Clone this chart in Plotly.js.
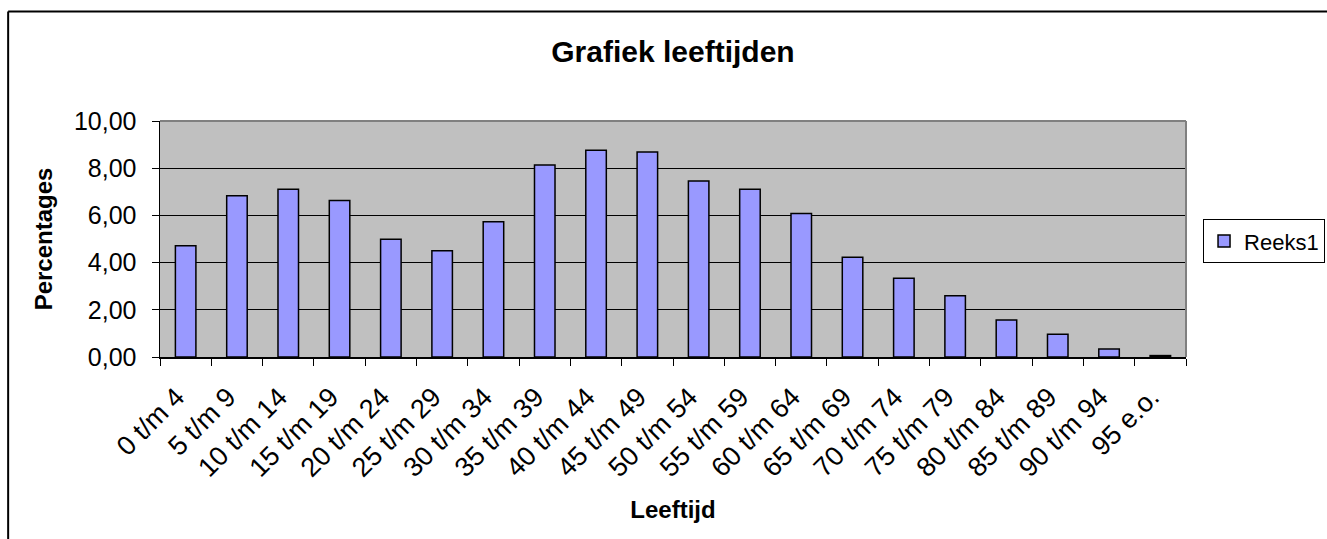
<!DOCTYPE html>
<html>
<head>
<meta charset="utf-8">
<script src="https://cdn.plot.ly/plotly-3.0.1.min.js"></script>
<style>
  html, body { margin: 0; padding: 0; background: #ffffff; }
  #chart { width: 1327px; height: 539px; }
</style>
</head>
<body>
<div id="chart"></div>
<script>
const categories = ["0 t/m 4", "5 t/m 9", "10 t/m 14", "15 t/m 19", "20 t/m 24", "25 t/m 29", "30 t/m 34", "35 t/m 39", "40 t/m 44", "45 t/m 49", "50 t/m 54", "55 t/m 59", "60 t/m 64", "65 t/m 69", "70 t/m 74", "75 t/m 79", "80 t/m 84", "85 t/m 89", "90 t/m 94", "95 e.o."];
const percentages = [4.71, 6.83, 7.11, 6.63, 4.99, 4.50, 5.73, 8.14, 8.76, 8.69, 7.46, 7.11, 6.08, 4.23, 3.34, 2.60, 1.57, 0.96, 0.34, 0.06];
const seriesName = "Reeks1";
const yTicks = [0, 2, 4, 6, 8, 10];

const FONT = "Liberation Sans, Arial, sans-serif";

const trace = {
  type: "bar",
  x: categories,
  y: percentages,
  name: seriesName,
  showlegend: true,
  marker: { color: "#9999FF", line: { color: "#000000", width: 1.5 } },
  hoverinfo: "x+y"
};

const layout = {
  width: 1327,
  height: 539,
  margin: { l: 160, r: 141, t: 121, b: 182, pad: 0, autoexpand: false },
  paper_bgcolor: "#ffffff",
  plot_bgcolor: "#C0C0C0",
  separators: ",.",
  bargap: 0.6,
  font: { family: FONT, color: "#000000", size: 24 },
  title: {
    text: "<b>Grafiek leeftijden</b>",
    font: { family: FONT, size: 30, color: "#000000" },
    x: 0.5, xref: "paper", xanchor: "center",
    y: 0.905, yref: "container", yanchor: "middle"
  },
  xaxis: {
    type: "category",
    tickangle: -45,
    tickson: "boundaries",
    ticks: "outside",
    ticklen: 7,
    tickcolor: "#000000",
    tickwidth: 1,
    ticklabelstandoff: 12,
    ticklabelshift: -9,
    showline: true,
    linecolor: "#000000",
    linewidth: 1.5,
    showgrid: false,
    tickfont: { family: FONT, size: 27, color: "#000000" },
    title: { text: "<b>Leeftijd</b>", font: { family: FONT, size: 24, color: "#000000" }, standoff: 19 },
    automargin: false
  },
  yaxis: {
    range: [0, 10],
    tickvals: yTicks,
    tickformat: ".2f",
    ticks: "outside",
    ticklen: 7,
    tickcolor: "#000000",
    tickwidth: 1,
    ticklabelstandoff: 10,
    showline: true,
    linecolor: "#000000",
    linewidth: 1.5,
    showgrid: true,
    gridcolor: "#000000",
    gridwidth: 1,
    zeroline: false,
    tickfont: { family: FONT, size: 25, color: "#000000" },
    title: { text: "<b>Percentages</b>", font: { family: FONT, size: 24, color: "#000000" }, standoff: 14 },
    automargin: false
  },
  legend: {
    x: 1.0166, xanchor: "left",
    y: 0.584, yanchor: "top",
    bgcolor: "#ffffff",
    bordercolor: "#000000",
    borderwidth: 1,
    font: { family: FONT, size: 22, color: "#000000" },
    itemwidth: 30
  },
  shapes: [
    { type: "line", xref: "paper", yref: "paper", x0: 0, x1: 1, y0: 1, y1: 1, line: { color: "#808080", width: 2 }, layer: "above" },
    { type: "line", xref: "paper", yref: "paper", x0: 1, x1: 1, y0: 0, y1: 1, line: { color: "#808080", width: 2 }, layer: "above" },
    { type: "line", xref: "paper", yref: "paper", x0: -0.148, x1: -0.148, y0: 1.464, y1: -1, line: { color: "#000000", width: 2 }, layer: "above" },
    { type: "line", xref: "paper", yref: "paper", x0: -0.148, x1: 2, y0: 1.464, y1: 1.464, line: { color: "#000000", width: 2 }, layer: "above" }
  ]
};

Plotly.newPlot("chart", [trace], layout, { displayModeBar: false, staticPlot: true });
</script>
</body>
</html>
